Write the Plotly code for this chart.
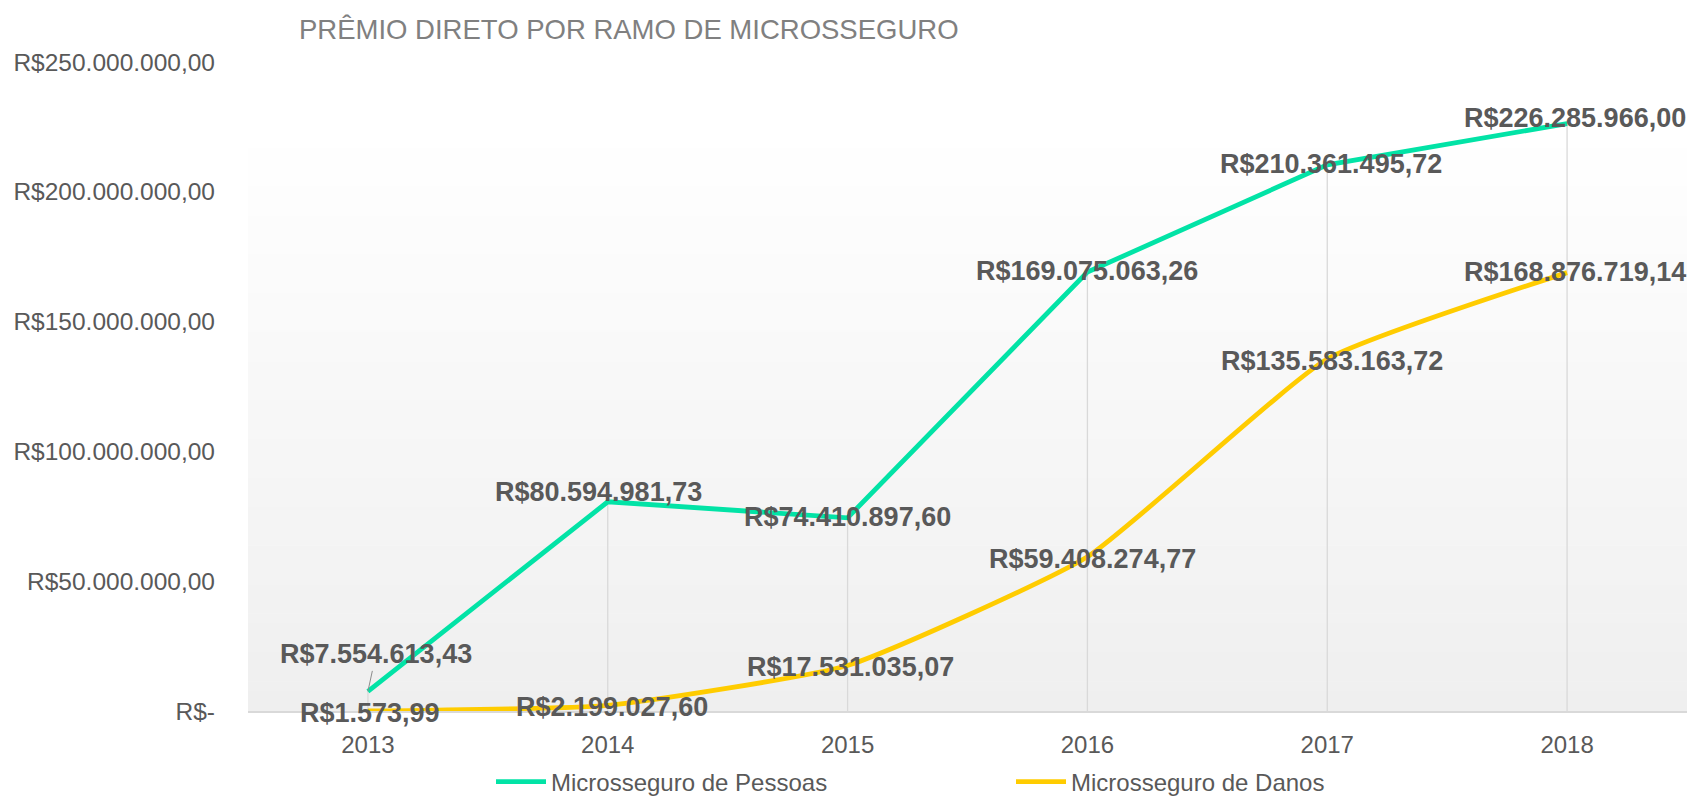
import plotly.graph_objects as go

# ---------------- data ----------------
years = ["2013", "2014", "2015", "2016", "2017", "2018"]
pessoas = [7554613.43, 80594981.73, 74410897.60, 169075063.26, 210361495.72, 226285966.00]
danos = [1573.99, 2199027.60, 17531035.07, 59408274.77, 135583163.72, 168876719.14]
series_names = ["Microsseguro de Pessoas", "Microsseguro de Danos"]
y_tickvals = [0, 50e6, 100e6, 150e6, 200e6, 250e6]
title_text = "PRÊMIO DIRETO POR RAMO DE MICROSSEGURO"

# ---------------- style ----------------
GREEN = "#02E3A6"
YELLOW = "#FFCC00"
LABEL = "#595959"
# page body has an 8px margin, so the figure is 8px smaller on each axis
W, H = 1695, 790
ML, MR, MT, MB = 240, 16, 54, 87
# label nudges (px) relative to their point
p_shift = [(0, 0), (-9, 10), (0, 1), (0, 1), (4, 1), (8, 6)]
d_shift = [(2, -2), (4, -2), (3, -2), (5, -2), (5, -2), (8, 1)]


def brl(v):
    s = f"{v:,.2f}"
    s = s.replace(",", "X").replace(".", ",").replace("X", ".")
    return "R$" + s


def brl_tick(v):
    return "R$-" if v == 0 else brl(v)


fig = go.Figure()

# drop lines (from highest point of each category to axis)
dx, dy = [], []
for i, yr in enumerate(years):
    dx += [yr, yr, None]
    dy += [0, max(pessoas[i], danos[i]), None]
fig.add_trace(go.Scatter(x=dx, y=dy, mode="lines", line=dict(color="#d9d9d9", width=1.3),
                         hoverinfo="skip", showlegend=False))

fig.add_trace(go.Scatter(x=years, y=pessoas, name=series_names[0], mode="lines",
                         line=dict(color=GREEN, width=4.8)))
fig.add_trace(go.Scatter(x=years, y=danos, name=series_names[1], mode="lines",
                         line=dict(color=YELLOW, width=4.8, shape="spline", smoothing=0.45)))

# data labels (x given as category index)
lab_font = dict(family="Liberation Sans", size=27, color=LABEL)
for i, yr in enumerate(years):
    if i == 0:
        fig.add_annotation(x=i, y=pessoas[i], text="<b>" + brl(pessoas[i]) + "</b>",
                           showarrow=True, arrowhead=0, arrowwidth=1, arrowcolor="#8c8c8c",
                           ax=8, ay=-37, standoff=0, font=lab_font)
    else:
        fig.add_annotation(x=i, y=pessoas[i], text="<b>" + brl(pessoas[i]) + "</b>",
                           showarrow=False, xshift=p_shift[i][0], yshift=p_shift[i][1],
                           font=lab_font)
    fig.add_annotation(x=i, y=danos[i], text="<b>" + brl(danos[i]) + "</b>",
                       showarrow=False, xshift=d_shift[i][0], yshift=d_shift[i][1], font=lab_font)

# gradient background of plot area (white at top -> light grey at bottom)
n = 60
top_frac = 0.898
for k in range(n):
    f0 = top_frac * k / n
    f1 = top_frac * (k + 1) / n
    t = ((f0 + f1) / 2) / top_frac  # 0 at bottom ... 1 at top
    c = int(round(0xef + (0xff - 0xef) * t))
    fig.add_shape(type="rect", xref="paper", yref="paper", x0=0, x1=1, y0=f0, y1=f1 + 0.001,
                  fillcolor=f"rgb({c},{c},{c})", line=dict(width=0), layer="below")

fig.update_layout(
    width=W, height=H,
    margin=dict(l=ML, r=MR, t=MT, b=MB, autoexpand=False),
    paper_bgcolor="white", plot_bgcolor="white",
    font=dict(family="Liberation Sans", color=LABEL, size=24),
    title=dict(text=title_text, xref="container", yref="container", x=291 / W, xanchor="left",
               y=1 - 21 / H, yanchor="middle",
               font=dict(family="Liberation Sans", size=27.5, color="#808080")),
    showlegend=True,
    legend=dict(orientation="h", xref="container", yref="container", x=483 / W, xanchor="left",
                y=1 - 774 / H, yanchor="middle", itemwidth=50,
                font=dict(size=24, color=LABEL), entrywidth=455, bgcolor="rgba(0,0,0,0)"),
    hovermode=False,
)
fig.update_xaxes(type="category", range=[-0.5, 5.5], showgrid=False, zeroline=False,
                 showline=True, linecolor="#d9d9d9", linewidth=2, ticks="", automargin=False,
                 ticklabelstandoff=11, tickfont=dict(size=24, color=LABEL))
fig.update_yaxes(range=[0, 250e6], tickvals=y_tickvals, ticktext=[brl_tick(v) for v in y_tickvals],
                 showgrid=False, zeroline=False, showline=False, ticks="", automargin=False,
                 ticklabelstandoff=32, tickfont=dict(size=24.5, color=LABEL))

fig.write_html("out.html")
